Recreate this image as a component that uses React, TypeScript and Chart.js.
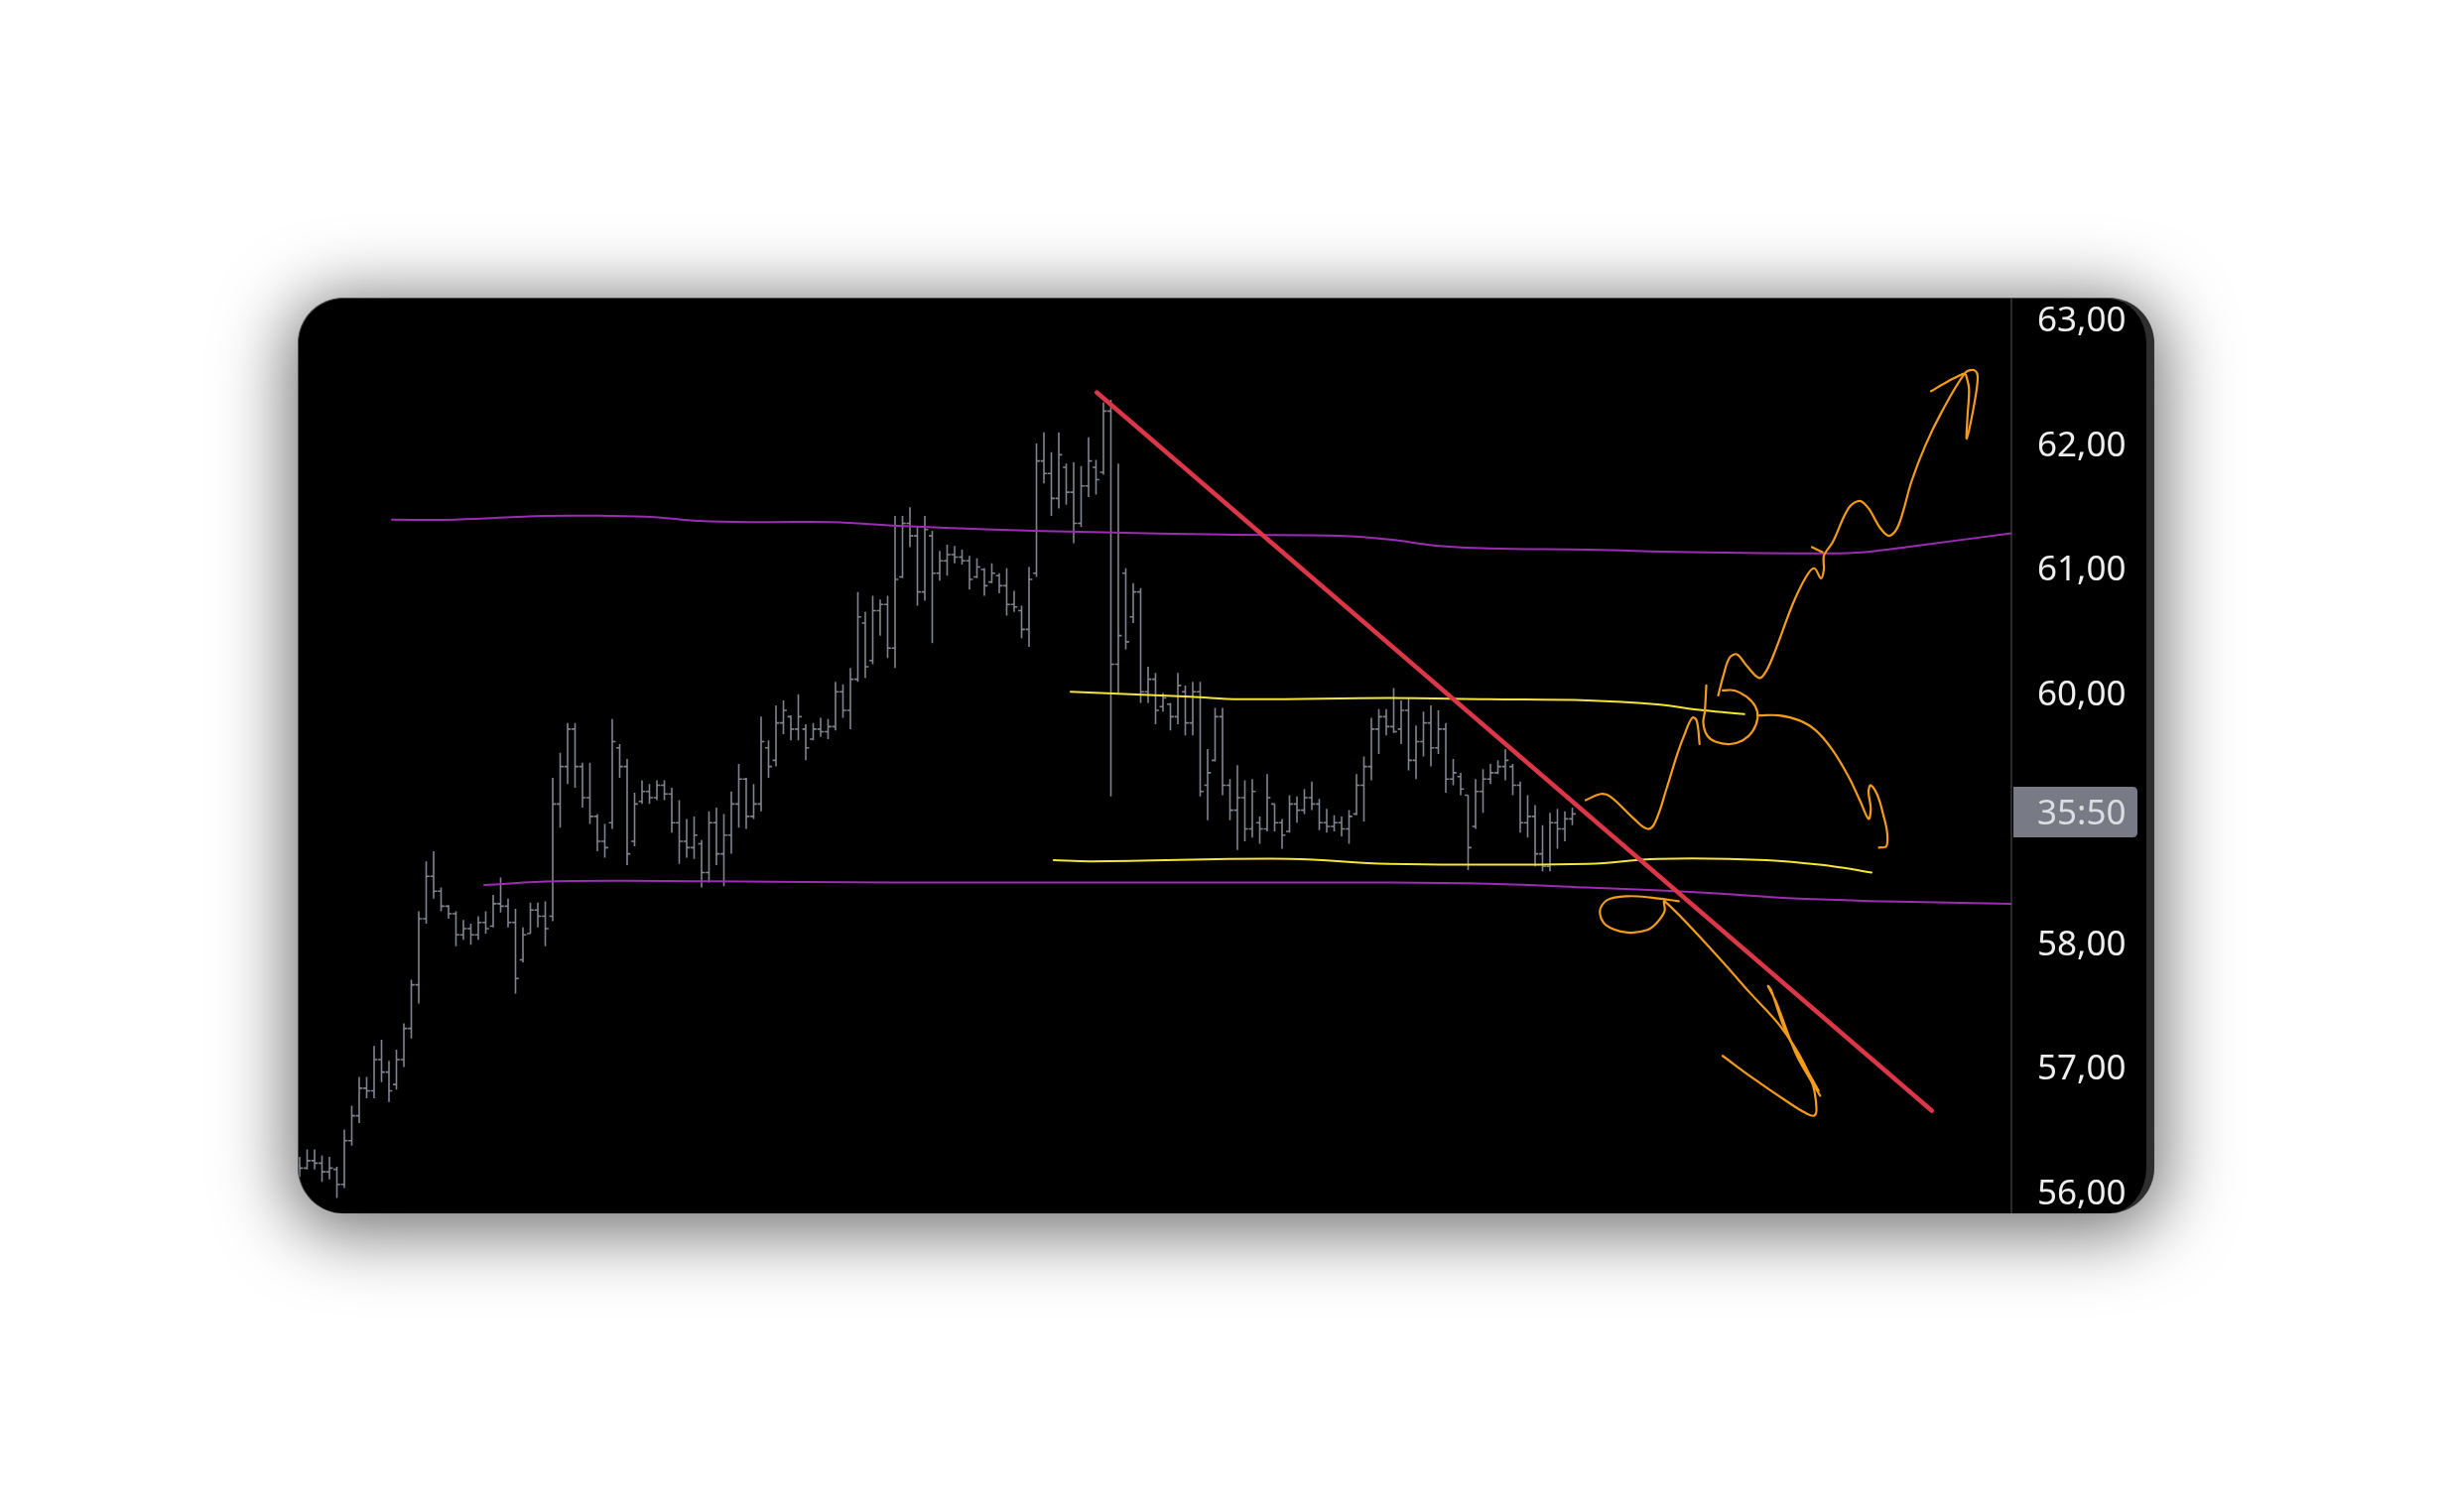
import React, { useEffect, useRef } from "react";
import { Chart, registerables } from "chart.js";

Chart.register(...registerables);

// ---- price bars (one per session, index = bar number) ----
const OPENS = [
  56.20, 56.18, 56.24, 56.22, 56.15, 56.17, 56.05, 56.40, 56.60, 56.82,
  56.80, 57.05, 56.95, 56.85, 57.05, 57.30, 57.65, 58.18, 58.52, 58.40,
  58.28, 58.22, 58.05, 58.10, 58.05, 58.15, 58.12, 58.30, 58.28, 58.15,
  57.85, 58.06, 58.25, 58.20, 58.20, 59.10, 59.40, 59.70, 59.40, 59.15,
  59.00, 58.80, 58.95, 59.55, 59.40, 58.80, 59.12, 59.20, 59.15, 59.25,
  59.18, 58.95, 58.80, 58.75, 58.78, 58.55, 58.95, 58.70, 58.85, 59.10,
  59.30, 59.00, 59.10, 59.55, 59.45, 59.75, 59.80, 59.70, 59.70, 59.62,
  59.70, 59.68, 59.72, 60.00, 59.85, 60.10, 60.55, 60.25, 60.65, 60.70,
  60.35, 60.92, 61.35, 61.25, 60.80, 61.25, 60.95, 61.05, 61.10, 61.08,
  61.05, 60.92, 60.98, 60.88, 60.93, 60.85, 60.70, 60.65, 60.50, 60.95,
  61.85, 61.75, 61.55, 61.80, 61.60, 61.35, 61.65, 61.80, 61.76, 62.25,
  60.22, 60.95, 60.60, 60.80, 60.00, 60.10, 59.88, 59.90, 59.80, 60.00,
  59.75, 60.00, 59.25, 59.45, 59.80, 59.25, 59.05, 59.15, 58.90, 58.95,
  58.90, 59.10, 58.95, 58.88, 59.10, 59.05, 59.15, 59.10, 58.95, 58.92,
  58.95, 58.90, 59.02, 59.25, 59.40, 59.70, 59.80, 59.72, 59.70, 59.85,
  59.45, 59.60, 59.75, 59.55, 59.70, 59.30, 59.32, 59.17, 58.92, 59.20,
  59.30, 59.35, 59.40, 59.40, 59.25, 58.95, 59.00, 58.70, 58.60, 58.95,
  58.90, 58.98,
];

const HIGHS = [
  56.27, 56.33, 56.33, 56.28, 56.27, 56.19, 56.49, 56.68, 56.91, 56.91,
  57.16, 57.21, 57.04, 57.13, 57.34, 57.69, 58.24, 58.64, 58.72, 58.43,
  58.29, 58.24, 58.17, 58.14, 58.20, 58.24, 58.37, 58.51, 58.34, 58.26,
  58.11, 58.31, 58.31, 58.32, 59.31, 59.51, 59.75, 59.75, 59.43, 59.43,
  59.02, 58.94, 59.78, 59.58, 59.46, 59.19, 59.29, 59.26, 59.29, 59.29,
  59.23, 59.13, 58.98, 59.00, 58.81, 59.04, 59.07, 59.02, 59.20, 59.42,
  59.31, 59.26, 59.80, 59.61, 59.89, 59.93, 59.81, 59.98, 59.74, 59.75,
  59.79, 59.78, 60.08, 60.06, 60.19, 60.80, 60.64, 60.77, 60.74, 60.77,
  61.41, 61.41, 61.48, 61.33, 61.41, 61.29, 61.13, 61.18, 61.17, 61.14,
  61.09, 61.07, 60.99, 61.03, 60.95, 60.99, 60.81, 60.69, 61.00, 61.99,
  62.08, 61.92, 62.08, 61.83, 61.84, 61.81, 62.04, 61.86, 62.32, 62.34,
  61.83, 60.99, 60.87, 60.83, 60.20, 60.15, 59.99, 59.91, 60.15, 60.05,
  60.08, 60.08, 59.54, 59.87, 59.87, 59.30, 59.41, 59.29, 59.30, 59.00,
  59.34, 59.10, 58.98, 59.17, 59.16, 59.22, 59.28, 59.14, 59.06, 59.01,
  59.00, 59.05, 59.34, 59.48, 59.79, 59.86, 59.86, 60.03, 59.93, 59.95,
  59.73, 59.84, 59.89, 59.85, 59.75, 59.46, 59.35, 59.17, 59.30, 59.38,
  59.42, 59.45, 59.54, 59.42, 59.28, 59.17, 59.09, 58.93, 59.03, 59.06,
  59.04, 59.07,
];

const LOWS = [
  56.11, 56.17, 56.17, 56.07, 56.09, 55.94, 56.02, 56.36, 56.54, 56.74,
  56.74, 56.87, 56.71, 56.81, 56.99, 57.22, 57.50, 58.14, 58.34, 58.24,
  58.18, 57.96, 58.01, 57.97, 58.01, 58.06, 58.11, 58.23, 58.11, 57.58,
  57.83, 58.06, 58.11, 57.96, 58.16, 58.91, 59.26, 59.23, 59.07, 58.94,
  58.72, 58.67, 58.90, 59.31, 58.61, 58.76, 59.10, 59.10, 59.13, 59.13,
  58.87, 58.62, 58.67, 58.66, 58.43, 58.47, 58.61, 58.44, 58.70, 58.91,
  58.90, 58.98, 59.04, 59.31, 59.40, 59.66, 59.61, 59.61, 59.45, 59.61,
  59.64, 59.62, 59.69, 59.79, 59.70, 60.08, 60.11, 60.22, 60.45, 60.27,
  60.19, 60.91, 61.16, 60.69, 60.73, 60.39, 60.89, 60.93, 61.03, 61.02,
  60.82, 60.91, 60.77, 60.87, 60.79, 60.61, 60.64, 60.43, 60.36, 60.92,
  61.67, 61.41, 61.47, 61.50, 61.19, 61.32, 61.56, 61.58, 61.74, 59.16,
  59.99, 60.34, 60.55, 59.91, 59.91, 59.74, 59.84, 59.69, 59.74, 59.65,
  59.65, 59.16, 58.97, 59.44, 59.17, 58.97, 58.73, 58.80, 58.83, 58.78,
  58.88, 58.88, 58.74, 58.87, 58.95, 59.02, 59.05, 58.89, 58.87, 58.88,
  58.84, 58.78, 59.01, 58.96, 59.29, 59.50, 59.65, 59.67, 59.58, 59.37,
  59.30, 59.48, 59.40, 59.50, 59.19, 59.25, 59.17, 58.57, 58.90, 59.03,
  59.26, 59.34, 59.29, 59.17, 58.87, 58.83, 58.60, 58.56, 58.56, 58.74,
  58.80, 58.93,
];

const CLOSES = [
  56.18, 56.24, 56.22, 56.15, 56.18, 56.05, 56.40, 56.60, 56.82, 56.80,
  57.05, 56.95, 56.80, 57.05, 57.30, 57.65, 58.18, 58.52, 58.40, 58.28,
  58.22, 58.05, 58.10, 58.05, 58.15, 58.10, 58.30, 58.28, 58.15, 57.70,
  58.05, 58.25, 58.20, 58.10, 59.10, 59.40, 59.70, 59.40, 59.15, 59.00,
  58.80, 58.75, 59.60, 59.40, 58.70, 59.10, 59.20, 59.15, 59.25, 59.18,
  58.95, 58.80, 58.75, 58.85, 58.55, 58.95, 58.70, 58.85, 59.10, 59.30,
  59.00, 59.10, 59.60, 59.40, 59.75, 59.85, 59.70, 59.80, 59.55, 59.70,
  59.68, 59.72, 60.00, 59.85, 60.10, 60.60, 60.20, 60.65, 60.70, 60.35,
  60.90, 61.35, 61.25, 60.80, 61.30, 60.95, 61.05, 61.10, 61.08, 61.05,
  60.90, 61.00, 60.85, 60.95, 60.85, 60.70, 60.68, 60.50, 60.90, 61.85,
  61.75, 61.55, 61.90, 61.60, 61.35, 61.65, 61.85, 61.70, 62.25, 60.22,
  60.45, 60.40, 60.80, 60.00, 60.10, 59.85, 59.95, 59.80, 60.05, 59.75,
  60.00, 59.20, 59.35, 59.80, 59.25, 59.05, 59.15, 58.90, 59.20, 58.90,
  59.15, 58.95, 58.85, 59.10, 59.05, 59.15, 59.10, 58.95, 58.92, 58.95,
  58.90, 59.00, 59.25, 59.40, 59.70, 59.80, 59.72, 59.68, 59.85, 59.45,
  59.60, 59.75, 59.55, 59.70, 59.30, 59.35, 59.22, 58.75, 59.20, 59.30,
  59.35, 59.40, 59.45, 59.25, 58.95, 59.00, 58.70, 58.60, 58.95, 58.90,
  58.98, 59.02,
];

// ---- price axis ----
const Y_MIN = 55.817;
const Y_MAX = 63.152;
const X_MIN = -0.133;
const X_MAX = 230;
const TICK_VALUES = [56, 57, 58, 60, 61, 62, 63];
const TICK_LABELS = ["56,00", "57,00", "58,00", "60,00", "61,00", "62,00", "63,00"];
const COUNTDOWN_PRICE = 59.035;
const COUNTDOWN_TEXT = "35:50";

// ---- indicator curves: [bar index, price] ----
const UPPER_AVERAGE: [number, number][] = [
  [12.4, 61.38], [20.9, 61.38], [32.8, 61.41], [41.7, 61.41], [47.6, 61.4],
  [53.6, 61.37], [62.5, 61.36], [71.5, 61.36], [80.4, 61.33], [93.1, 61.3],
  [106.4, 61.28], [124.1, 61.26], [139.7, 61.25], [146.4, 61.22], [153.1, 61.17],
  [159.7, 61.15], [173.1, 61.14], [186.4, 61.12], [204.7, 61.11], [210.4, 61.12],
  [217.1, 61.17], [230.0, 61.27],
];

const LOWER_AVERAGE: [number, number][] = [
  [24.8, 58.45], [34.4, 58.48], [55.7, 58.48], [79.7, 58.47], [106.4, 58.47],
  [146.4, 58.47], [159.7, 58.46], [173.1, 58.43], [188.1, 58.39], [201.5, 58.34],
  [213.0, 58.32], [230.0, 58.3],
];

// ---- drawn levels ----
const RANGE_TOP: [number, number][] = [
  [103.6, 60.0], [119.7, 59.96], [126.4, 59.94], [146.4, 59.95], [159.7, 59.94],
  [173.1, 59.93], [182.0, 59.9], [188.7, 59.85], [194.1, 59.82],
];

const RANGE_BOTTOM: [number, number][] = [
  [101.3, 58.65], [106.4, 58.64], [133.1, 58.66], [146.4, 58.62], [173.1, 58.62],
  [182.4, 58.66], [197.1, 58.65], [206.0, 58.6], [211.2, 58.55],
];

const TREND_LINE: [number, number][] = [
  [107.1, 62.4], [219.3, 56.64],
];

// ---- freehand scenario strokes ----
const WAVE_UP: [number, number][] = [
  [172.8, 59.13], [174.8, 59.18], [176.1, 59.16], [179.3, 58.98], [181.1, 58.9],
  [182.1, 58.95], [183.7, 59.23], [185.1, 59.5], [186.1, 59.66], [187.1, 59.79],
  [187.7, 59.77], [188.1, 59.58],
];

const CLIMB: [number, number][] = [
  [190.6, 59.97], [191.3, 60.13], [192.1, 60.27], [193.1, 60.3], [194.4, 60.21],
  [196.1, 60.11], [197.1, 60.17], [198.4, 60.35], [200.6, 60.7], [202.4, 60.92],
  [203.5, 60.99], [204.4, 60.91], [204.8, 60.98], [204.8, 61.09], [206.0, 61.2],
  [208.1, 61.47], [209.6, 61.53], [210.8, 61.47], [212.4, 61.31], [213.6, 61.25],
  [214.8, 61.33], [216.6, 61.69], [218.4, 61.97], [220.6, 62.24], [223.7, 62.55],
  [224.8, 62.58], [225.4, 62.55], [225.4, 62.46], [224.8, 62.24], [224.0, 62.03],
  [224.1, 62.21], [224.3, 62.43], [223.9, 62.54],
];

const CLIMB_BARB: [number, number][] = [
  [219.2, 62.41], [221.5, 62.49], [223.5, 62.55],
];

const CLIMB_TICK: [number, number][] = [
  [203.2, 61.16], [204.6, 61.12],
];

const FIVE_MARK: [number, number][] = [
  [189.0, 60.05], [188.8, 59.84], [188.6, 59.75], [189.1, 59.65], [190.2, 59.6],
  [192.2, 59.58], [193.9, 59.61], [195.2, 59.68], [195.9, 59.79], [195.6, 59.88],
  [194.4, 59.96], [192.8, 60.01], [191.2, 60.01],
];

const FADE: [number, number][] = [
  [196.1, 59.81], [198.8, 59.81], [201.5, 59.77], [203.7, 59.69], [206.0, 59.53],
  [208.2, 59.31], [209.7, 59.12], [210.8, 58.98], [211.1, 59.06], [210.8, 59.2],
  [211.1, 59.25], [212.0, 59.17], [212.8, 59.01], [213.3, 58.87], [213.2, 58.76],
  [212.2, 58.75],
];

const BREAKDOWN: [number, number][] = [
  [185.3, 58.32], [181.5, 58.35], [178.4, 58.36], [175.7, 58.33], [174.7, 58.24],
  [175.5, 58.13], [178.4, 58.07], [181.1, 58.09], [182.4, 58.15], [183.4, 58.24],
  [183.4, 58.32], [190.8, 57.86], [194.8, 57.59], [198.8, 57.33], [201.5, 57.09],
  [203.3, 56.85], [203.8, 56.66], [203.5, 56.6], [202.4, 56.62], [200.2, 56.7],
  [195.3, 56.9], [191.2, 57.08],
];

const BREAKDOWN_HEAD: [number, number][] = [
  [204.3, 56.76], [201.1, 57.09], [198.4, 57.51], [197.3, 57.64], [197.7, 57.61],
  [199.7, 57.27], [202.4, 56.98], [204.1, 56.8],
];

const BAR_COLOR = "#80838f";
const PURPLE = "#9c2cb3";
const YELLOW = "#f5e43a";
const RED = "#dc3649";
const ORANGE = "#f39c1c";
const LABEL_FONT = "'Noto Sans', 'Open Sans', sans-serif";

const pts = (arr: [number, number][]) => arr.map(([x, y]) => ({ x, y }));

const ohlcPlugin = {
  id: "ohlcBars",
  beforeDatasetsDraw(chart: any) {
    const { ctx, chartArea, scales } = chart;
    const x = scales.x;
    const y = scales.y;
    ctx.save();
    ctx.beginPath();
    ctx.rect(chartArea.left, chartArea.top, chartArea.right - chartArea.left, chartArea.bottom - chartArea.top);
    ctx.clip();
    ctx.strokeStyle = BAR_COLOR;
    ctx.lineWidth = 1.6;
    const step = Math.abs(x.getPixelForValue(1) - x.getPixelForValue(0));
    const tick = step * 0.45;
    for (let i = 0; i < HIGHS.length; i++) {
      const px = x.getPixelForValue(i);
      const yo = y.getPixelForValue(OPENS[i]);
      const yc = y.getPixelForValue(CLOSES[i]);
      ctx.beginPath();
      ctx.moveTo(px, y.getPixelForValue(HIGHS[i]));
      ctx.lineTo(px, y.getPixelForValue(LOWS[i]));
      ctx.moveTo(px - tick, yo);
      ctx.lineTo(px, yo);
      ctx.moveTo(px, yc);
      ctx.lineTo(px + tick, yc);
      ctx.stroke();
    }
    ctx.restore();
  },
};

const countdownPlugin = {
  id: "countdownBadge",
  afterDraw(chart: any) {
    const { ctx } = chart;
    const y = chart.scales.y;
    const cy = y.getPixelForValue(COUNTDOWN_PRICE);
    const left = y.left + 2;
    const right = y.right - 9;
    const h = 51;
    const top = cy - h / 2;
    const r = 5;
    ctx.save();
    ctx.fillStyle = "#787b86";
    ctx.beginPath();
    ctx.moveTo(left, top);
    ctx.lineTo(right - r, top);
    ctx.quadraticCurveTo(right, top, right, top + r);
    ctx.lineTo(right, top + h - r);
    ctx.quadraticCurveTo(right, top + h, right - r, top + h);
    ctx.lineTo(left, top + h);
    ctx.closePath();
    ctx.fill();
    ctx.fillStyle = "#dcdde2";
    ctx.font = `35px ${LABEL_FONT}`;
    ctx.textAlign = "left";
    ctx.textBaseline = "middle";
    ctx.fillText(COUNTDOWN_TEXT, y.left + 26, cy + 3);
    ctx.restore();
  },
};

function lineSet(data: [number, number][], color: string, width: number, tension: number, order: number) {
  return {
    data: pts(data),
    borderColor: color,
    borderWidth: width,
    tension,
    pointRadius: 0,
    fill: false,
    order,
    borderCapStyle: "round" as const,
    borderJoinStyle: "round" as const,
  };
}

export default function App() {
  const canvasRef = useRef<HTMLCanvasElement | null>(null);

  useEffect(() => {
    const canvas = canvasRef.current;
    if (!canvas) return;
    const chart = new Chart(canvas, {
      type: "line",
      data: {
        datasets: [
          lineSet(WAVE_UP, ORANGE, 2.2, 0.4, 0),
          lineSet(CLIMB, ORANGE, 2.2, 0.35, 0),
          lineSet(CLIMB_BARB, ORANGE, 2.2, 0.3, 0),
          lineSet(CLIMB_TICK, ORANGE, 2.2, 0, 0),
          lineSet(FIVE_MARK, ORANGE, 2.2, 0.4, 0),
          lineSet(FADE, ORANGE, 2.2, 0.35, 0),
          lineSet(BREAKDOWN, ORANGE, 2.2, 0.35, 0),
          lineSet(BREAKDOWN_HEAD, ORANGE, 2.2, 0.3, 0),
          lineSet(TREND_LINE, RED, 4.5, 0, 1),
          lineSet(RANGE_TOP, YELLOW, 2, 0.4, 2),
          lineSet(RANGE_BOTTOM, YELLOW, 2, 0.4, 2),
          lineSet(UPPER_AVERAGE, PURPLE, 2, 0.4, 3),
          lineSet(LOWER_AVERAGE, PURPLE, 2, 0.4, 3),
        ],
      },
      options: {
        animation: false,
        responsive: false,
        maintainAspectRatio: false,
        devicePixelRatio: 1,
        events: [],
        layout: { padding: 0 },
        plugins: {
          legend: { display: false },
          tooltip: { enabled: false },
        },
        scales: {
          x: {
            type: "linear",
            display: false,
            min: X_MIN,
            max: X_MAX,
          },
          y: {
            type: "linear",
            position: "right",
            min: Y_MIN,
            max: Y_MAX,
            grid: { display: false, drawTicks: false },
            border: { display: true, color: "#2b2b2b", width: 2 },
            ticks: {
              autoSkip: false,
              color: "#eeeeee",
              padding: 26,
              labelOffset: 4,
              crossAlign: "near",
              font: { family: LABEL_FONT, size: 35 },
              callback: (value: any) => {
                const idx = TICK_VALUES.indexOf(Number(value));
                return idx >= 0 ? TICK_LABELS[idx] : "";
              },
            },
            afterBuildTicks: (scale: any) => {
              scale.ticks = TICK_VALUES.map((value) => ({ value }));
            },
            afterFit: (scale: any) => {
              scale.width = 136;
              scale.paddingTop = 0;
              scale.paddingBottom = 0;
            },
          },
        },
      } as any,
      plugins: [ohlcPlugin, countdownPlugin],
    });
    return () => chart.destroy();
  }, []);

  return (
    <div
      style={{
        position: "absolute",
        left: 300,
        top: 300,
        width: 1871,
        height: 923,
        boxSizing: "border-box",
        borderRadius: 46,
        overflow: "hidden",
        background: "#000",
        borderTop: "1px solid #4a4a4a",
        borderLeft: "1px solid #4a4a4a",
        borderRight: "8px solid #2e2e2e",
        boxShadow: "0 10px 70px 10px rgba(0,0,0,0.55)",
      }}
    >
      <canvas ref={canvasRef} width={1862} height={922} style={{ display: "block" }} />
    </div>
  );
}
